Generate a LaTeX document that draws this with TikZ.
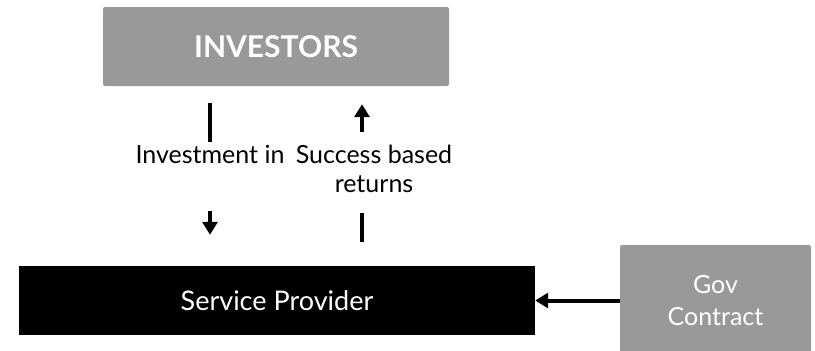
\documentclass[tikz,border=0pt]{standalone}
\usepackage{fontspec}
\setmainfont{Lato}
\usetikzlibrary{arrows.meta}

\definecolor{boxgray}{HTML}{999999}
\tikzstyle{greybox}=[fill=boxgray, rounded corners=2pt, text=white]
\tikzstyle{lbl}=[inner sep=0pt, font=\fontsize{25}{29}\selectfont, align=center]
\tikzstyle{bar}=[line width=4pt]
\tikzstyle{flow}=[line width=4pt, -{Triangle[length=13pt,width=15pt]}]

\begin{document}
\begin{tikzpicture}[x=1pt,y=-1pt]
\useasboundingbox (0,0) rectangle (815,351);
\draw(276,46.5) node[greybox, minimum width=346pt, minimum height=79pt,
  font=\fontsize{30}{34}\selectfont\bfseries](investors){INVESTORS};
\draw(277,300.5) node[fill=black, text=white, minimum width=516pt, minimum height=69pt,
  font=\fontsize{27}{32}\selectfont](provider){Service Provider};
\draw(715.5,301) node[greybox, minimum width=191pt, minimum height=112pt, align=center,
  font=\fontsize{25}{32}\selectfont](gov){Gov\\Contract};
%
\draw(210,145) node[lbl, anchor=north](invest){Investment in};
\draw(374,145) node[lbl, anchor=north](returns){Success based\\returns};
%
\draw[bar, shorten <=17pt, shorten >=3pt] (investors.south -| invest.north) -- (invest.north);
\draw[flow, shorten <=47pt, shorten >=31pt] (invest.south) -- (invest.south |- provider.north);
\draw[flow, shorten <=13pt, shorten >=18pt] ([xshift=-12pt]returns.north)
  -- ([xshift=-12pt]returns.north |- investors.south);
\draw[bar, shorten <=20pt, shorten >=24pt] ([xshift=-12pt]returns.south)
  -- ([xshift=-12pt]returns.south |- provider.north);
\draw[flow] (gov.west |- provider.east) -- (provider.east);
\end{tikzpicture}
\end{document}
